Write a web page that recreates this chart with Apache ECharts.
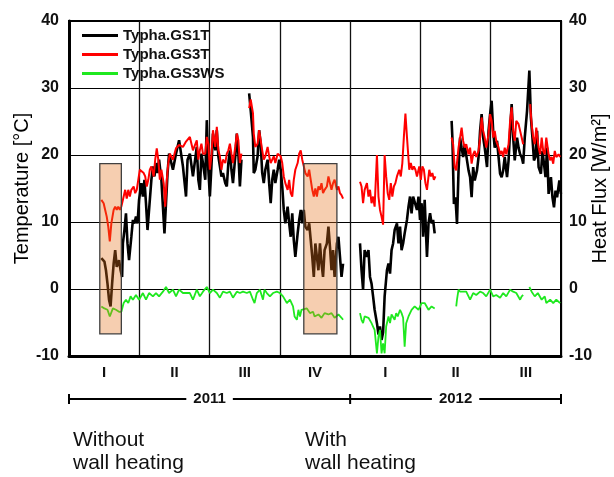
<!DOCTYPE html>
<html>
<head>
<meta charset="utf-8">
<script src="https://cdn.jsdelivr.net/npm/echarts@6/dist/echarts.min.js"></script>
<style>
  html, body { margin: 0; padding: 0; background: #fff; }
  #main { width: 614px; height: 477px; }
</style>
</head>
<body>
<div id="main"></div>
<script>
// x = days since 2011-01-01, null = gap in the logger record
var quarterLabels = ['I', 'II', 'III', 'IV', 'I', 'II', 'III'];
var yearLabels = ['2011', '2012'];
var yearBounds = [0, 365.2, 639.1];
var heatingBoxes = [[40, 68], [305, 348]];   // days: without / with wall heating
var boxRange = [-6.7, 18.7];

var gs1t = [
    [42,4.6],[46,4.1],[48,2.8],[50,0.8],[52,-1.6],[54,-2.6],[56,0.8],[58,3.8],[60,5.8],[62,3.3],[65,4.3],[67,2.8],[69,1.8],
    [70,6.8],[72,8.8],[74,11.3],[76,6.8],[78,4.3],[81,7.8],[83,10.3],[85,9.8],[87,10.8],[89,9.8],[91,13.3],[94,15.8],[96,13.8],
    [98,16.3],[100,12.8],[102,8.8],[104,11.8],[107,16.3],[109,18.3],[111,16.8],[113,18.8],[115,17.3],[117,19.3],[120,16.3],
    [122,12.3],[124,8.3],[126,12.8],[128,17.3],[130,20.2],[135,17.8],[139,20.2],[143,22.2],[148,18.3],[152,13.8],[154,19.3],
    [157,20.2],[161,16.8],[166,21.2],[168,16.3],[170,14.8],[172,20.2],[174,18.8],[177,16.3],[179,25.2],[181,17.8],[183,13.8],
    [185,18.3],[187,23.2],[190,20.7],[192,23.7],[194,19.8],[196,18.3],[198,16.8],[200,17.3],[203,15.8],[205,15.3],[207,18.8],
    [209,20.7],[211,17.8],[213,15.8],[216,19.8],[218,23.2],[220,20.2],[222,15.3],[224,19.3],
    null,
    [234,29.2],[236,26.7],[239,22.7],[240,17.3],[242,17.8],[245,19.8],[247,23.7],[249,21.7],[251,17.3],[253,15.8],[255,17.8],
    [258,19.3],[260,15.8],[262,12.8],[264,16.3],[266,17.8],[268,15.8],[271,17.8],[273,19.3],[275,17.8],[277,15.3],[279,11.8],
    [281,9.8],[284,12.3],[286,9.8],[288,7.8],[290,11.3],[292,7.3],[294,4.8],[297,8.3],[299,10.3],[301,11.8],[303,9.8],
    [305,11.8],[307,9.3],[310,8.8],[312,9.8],[314,7.3],[316,4.8],[318,1.8],[320,6.8],[322,4.8],[324,2.8],[326,6.8],[328,3.8],
    [330,1.8],[332,5.8],[335,6.8],[337,9.3],[339,6.3],[341,2.8],[343,5.8],[345,1.8],[348,6.8],[350,7.8],[352,4.8],[354,1.8],[356,3.8],
    null,
    [378,6.8],[380,2.8],[382,-0.1],[384,5.8],[387,4.8],[389,5.8],[391,1.8],[393,0.8],[395,-1.1],[397,-3.1],[400,-5.1],
    [402,-6.8],[404,-5.6],[406,-7.6],[408,-6.5],[410,-1.1],[413,2.8],[415,3.8],[417,2.3],[419,5.8],[421,6.8],[423,8.8],
    [426,9.8],[428,6.8],[430,9.3],[432,5.8],[434,6.8],[436,8.3],[439,10.3],[441,12.3],[443,13.8],[445,11.3],[447,13.8],
    [449,13.8],[452,11.8],[454,13.8],[456,10.3],[458,12.8],[460,7.8],[462,13.3],[465,4.8],[467,9.8],[469,11.3],[471,9.8],
    [473,10.3],[475,8.3],
    null,
    [497,25.1],[498,22.6],[500,12.7],[502,13.7],[504,9.7],[506,17.7],[508,22.6],[510,21.1],[512,19.7],[514,21.6],[517,19.2],
    [519,17.7],[521,16.7],[523,13.7],[525,18.2],[527,16.2],[530,17.7],[532,19.7],[534,23.6],[536,26.1],[538,22.6],[540,21.1],
    [543,18.2],[545,23.6],[547,26.1],[549,28.1],[551,23.6],[553,21.1],[556,22.1],[558,19.7],[560,17.2],[562,16.7],[564,17.7],
    [566,19.7],[569,16.7],[571,19.2],[573,23.6],[575,27.6],[577,22.6],[579,19.2],[582,22.6],[584,21.1],[586,20.1],[588,19.7],
    [590,18.7],[592,22.6],[595,26.6],[598,32.6],[600,25.6],[602,22.6],[604,19.2],[606,19.7],[608,23.6],[610,18.2],[613,17.2],
    [615,20.6],[617,18.7],[619,16.7],[621,21.1],[623,14.2],[626,16.7],[628,13.7],[630,12.2],[632,14.7],[634,13.7],[637,16.2],[639,14.2]
];

var gs3t = [
    [42,13.3],[45,12.8],[47,11.8],[49,10.8],[51,9.3],[53,7.1],[55,9.8],[58,11.8],[60,12.3],[62,11.8],[64,12.3],[66,11.8],
    [68,12.3],[71,13.8],[73,14.8],[75,13.5],[77,14.8],[79,13.8],[81,14.8],[84,15.3],[86,14.3],[88,14.8],[90,16.3],[92,17.8],
    [94,17.8],[97,17.3],[99,16.8],[101,15.3],[103,16.3],[105,17.8],[107,18.3],[110,16.8],[112,19.3],[114,21.0],[116,19.3],
    [118,16.3],[120,17.8],[123,15.8],[125,12.3],[127,16.3],[129,18.8],[131,20.2],[135,19.3],[139,21.0],[143,21.5],[148,21.2],
    [152,22.0],[157,22.7],[161,20.7],[166,22.2],[168,19.3],[170,20.7],[172,21.7],[174,20.2],[177,20.2],[179,22.7],[181,21.7],
    [183,17.8],[185,19.8],[187,23.7],[190,21.2],[192,24.2],[194,20.7],[196,19.8],[198,17.8],[200,19.3],[203,18.8],[205,20.2],
    [207,20.7],[209,21.7],[211,20.2],[213,18.8],[216,21.2],[218,23.2],[220,22.2],[222,18.8],[224,20.2],
    null,
    [234,27.0],[236,28.3],[239,26.2],[240,23.2],[242,21.2],[245,21.7],[247,23.7],[249,22.2],[251,20.7],[253,19.3],[255,19.8],
    [258,21.2],[260,19.8],[262,18.8],[264,19.3],[266,19.8],[268,18.8],[271,20.2],[273,20.2],[275,19.8],[277,18.8],[279,16.8],
    [281,15.8],[284,14.8],[286,16.3],[288,14.3],[290,13.8],[292,16.3],[294,17.8],[297,18.8],[299,20.2],[301,20.7],[303,19.3],
    [305,18.3],[307,17.3],[310,16.8],[312,17.8],[314,16.3],[316,14.8],[318,13.8],[320,15.0],[322,13.8],[324,15.3],[326,14.8],
    [328,15.8],[330,14.3],[332,14.8],[335,15.3],[337,16.8],[339,15.8],[341,14.8],[343,15.8],[345,16.3],[348,14.8],[350,15.3],
    [352,14.3],[354,14.0],[356,13.5],
    null,
    [378,16.0],[380,15.3],[382,12.8],[384,14.8],[387,15.8],[389,13.8],[391,14.8],[393,12.8],[395,13.8],[397,12.3],[400,20.0],
    [402,13.8],[404,11.8],[406,10.8],[408,9.6],[410,20.0],[412,16.8],[414,14.3],[416,13.3],[418,15.8],[420,13.8],[422,15.3],
    [424,15.8],[426,16.8],[429,17.8],[431,16.8],[433,18.8],[435,22.7],[437,26.2],[439,22.7],[442,17.8],[444,18.8],[446,17.8],
    [448,18.3],[450,17.8],[452,16.8],[455,18.3],[457,16.3],[459,18.3],[461,17.8],[463,15.8],[465,14.8],[468,17.8],[470,16.8],
    [472,17.3],[474,16.3],[476,16.8],
    null,
    [497,22.6],[499,21.6],[501,18.2],[503,17.7],[506,21.1],[508,22.6],[510,24.1],[512,22.1],[514,21.1],[516,21.6],[519,20.1],
    [521,21.1],[523,18.7],[525,20.1],[527,20.6],[529,19.7],[532,20.6],[534,22.6],[536,25.6],[538,23.6],[540,22.6],[542,21.1],
    [545,23.1],[547,26.1],[549,25.1],[551,22.6],[553,23.6],[555,22.1],[558,21.1],[560,20.1],[562,20.6],[564,19.7],[566,21.1],
    [568,20.1],[571,21.6],[573,25.1],[575,27.1],[577,23.6],[579,22.1],[581,25.1],[584,24.6],[586,23.6],[588,22.6],[590,21.6],
    null,
    [599,27.6],[601,24.6],[603,22.6],[605,21.6],[607,24.1],[610,21.1],[612,20.1],[614,22.6],[616,20.6],[618,20.1],[620,22.6],
    [623,20.1],[625,19.2],[627,19.7],[629,18.7],[631,20.6],[633,19.7],[636,20.1],[638,19.7]
];

var gs3ws = [
    [42,-2.6],[46,-2.9],[50,-3.1],[53,-4.1],[57,-2.9],[61,-3.1],[65,-3.4],[68,-3.4],[71,-2.1],[74,-1.6],[77,-2.1],[80,-1.1],
    [83,-1.6],[87,-0.9],[91,-1.6],[96,-0.6],[100,-1.6],[104,-0.6],[109,-1.1],[113,-0.6],[117,-1.1],[122,-0.4],[126,0.3],
    [130,-0.6],[135,-0.1],[139,-1.1],[143,-0.1],[148,-0.6],[157,-0.6],[161,-1.6],[166,-0.1],[170,-1.1],[174,-0.4],[179,0.3],
    [183,-0.6],[187,-0.1],[192,-0.6],[196,-1.3],[200,-0.4],[205,-0.6],[209,-0.4],[213,-1.3],[218,-0.4],[222,-0.6],[226,-0.4],
    [231,-0.6],[235,-0.4],[239,-1.6],[241,-2.1],[244,-0.6],[248,-0.1],[252,-1.6],[254,-0.1],[257,-0.6],[261,-1.1],[265,-0.6],
    [270,-0.4],[274,-0.6],[278,-1.1],[283,-2.1],[287,-1.6],[291,-2.6],[293,-4.1],[296,-4.6],[298,-3.1],[300,-4.1],[302,-3.1],
    [304,-3.1],[309,-2.9],[313,-3.6],[317,-3.4],[319,-4.1],[324,-3.8],[328,-4.3],[332,-3.6],[337,-3.8],[341,-3.6],[345,-4.3],
    [350,-3.8],[354,-4.3],[356,-4.6],
    null,
    [378,-3.6],[380,-4.6],[382,-5.1],[384,-4.1],[389,-4.3],[393,-5.1],[395,-5.6],[397,-6.1],[400,-9.6],[402,-7.1],[404,-6.1],
    [406,-9.6],[408,-8.1],[410,-9.6],[412,-5.6],[415,-4.1],[417,-5.1],[419,-3.8],[423,-4.6],[425,-3.6],[427,-4.1],[430,-3.1],
    [432,-3.6],[434,-4.3],[436,-8.6],[438,-5.1],[441,-4.1],[445,-3.1],[449,-2.6],[454,-3.1],[458,-2.1],[462,-2.1],[467,-3.1],
    [471,-2.6],[475,-2.9],
    null,
    [503,-2.6],[504,-1.6],[506,-0.1],[508,-0.4],[512,-0.4],[516,-0.4],[521,-1.6],[523,-1.1],[525,-0.6],[529,-0.9],[534,-0.4],
    [538,-0.6],[542,-1.1],[547,-0.1],[551,-1.1],[555,-0.9],[560,-1.3],[564,-0.6],[568,-1.1],[573,-0.1],[577,-0.4],[581,-0.6],
    [586,-1.6],[588,-1.1],[590,-0.9],
    null,
    [598,0.3],[601,-0.4],[605,-1.1],[609,-0.6],[614,-1.6],[618,-1.1],[620,-2.1],[625,-1.6],[629,-2.1],[633,-1.6],[638,-2.1]
];

function toLine(arr) {
    return arr.map(function (p) { return p === null ? ['-', '-'] : p; });
}

var FONT = 'Liberation Sans, Arial, sans-serif';

var chart = echarts.init(document.getElementById('main'));

var option = {
    animation: false,
    backgroundColor: '#fff',
    grid: {
        left: 69, right: 53, top: 21, bottom: 121,
        outerBoundsMode: 'none', containLabel: false,
        show: true, borderColor: '#000', borderWidth: 2
    },
    legend: {
        orient: 'vertical',
        left: 82, top: 28, padding: 0,
        itemWidth: 36, itemHeight: 3, itemGap: 4,
        icon: 'rect',
        data: ['Typha.GS1T', 'Typha.GS3T', 'Typha.GS3WS'],
        textStyle: { fontFamily: FONT, fontWeight: 'bold', fontSize: 15, lineHeight: 15, color: '#111' }
    },
    xAxis: [{
        type: 'value', min: yearBounds[0], max: yearBounds[2], interval: 91.3,
        axisLine: { show: true, onZero: false, lineStyle: { color: '#000', width: 3 } },
        axisTick: { show: false },
        axisLabel: { show: false },
        splitLine: { show: true, lineStyle: { color: '#111', width: 1.3 } }
    }, {
        type: 'category', data: quarterLabels, position: 'bottom',
        axisLine: { show: false, onZero: false }, axisTick: { show: false },
        axisLabel: { margin: 9, fontFamily: FONT, fontWeight: 'bold', fontSize: 15, color: '#111' }
    }],
    yAxis: [{
        type: 'value', min: -10, max: 40, interval: 10,
        name: 'Temperature [°C]', nameLocation: 'middle', nameGap: 37, nameMoveOverlap: false,
        nameTextStyle: { fontFamily: FONT, fontSize: 20, color: '#000' },
        axisLine: { show: true, lineStyle: { color: '#000', width: 3 } },
        axisTick: { show: false },
        axisLabel: { margin: 10, fontFamily: FONT, fontWeight: 'bold', fontSize: 16, color: '#111' },
        splitLine: { show: true, lineStyle: { color: '#000', width: 1 } }
    }, {
        type: 'value', min: -10, max: 40, interval: 10, position: 'right',
        name: 'Heat Flux [W/m²]', nameLocation: 'middle', nameGap: 29, nameMoveOverlap: false,
        nameTextStyle: { fontFamily: FONT, fontSize: 20, color: '#000' },
        axisLine: { show: true, lineStyle: { color: '#000', width: 2 } },
        axisTick: { show: false },
        axisLabel: { margin: 8, fontFamily: FONT, fontWeight: 'bold', fontSize: 16, color: '#111' },
        splitLine: { show: false }
    }],
    series: [{
        name: 'Typha.GS1T', type: 'line', showSymbol: false, connectNulls: false,
        data: toLine(gs1t), color: '#000',
        lineStyle: { width: 2.6, color: '#000' }
    }, {
        name: 'Typha.GS3T', type: 'line', showSymbol: false, connectNulls: false,
        data: toLine(gs3t), color: '#ff0000',
        lineStyle: { width: 2, color: '#ff0000' }
    }, {
        name: 'Typha.GS3WS', type: 'line', showSymbol: false, connectNulls: false,
        yAxisIndex: 1,
        data: toLine(gs3ws), color: '#1fe81f',
        lineStyle: { width: 1.8, color: '#1fe81f' }
    }, {
        name: 'boxes', type: 'line', data: [], z: 10,
        markArea: {
            silent: true, z: 10,
            itemStyle: { color: 'rgba(229,114,29,0.35)', borderColor: '#404040', borderWidth: 1.3 },
            data: heatingBoxes.map(function (b) {
                return [{ coord: [b[0], boxRange[1]] }, { coord: [b[1], boxRange[0]] }];
            })
        }
    }]
};
chart.setOption(option);

// year brackets under the quarter labels
var px = function (d) { return chart.convertToPixel({ xAxisIndex: 0 }, d); };
var yLine = chart.convertToPixel({ yAxisIndex: 0 }, -10) + 43;
var graphics = [];
for (var i = 0; i < yearLabels.length; i++) {
    var x0 = px(yearBounds[i]), x1 = px(yearBounds[i + 1]);
    graphics.push({ type: 'line', shape: { x1: x0, y1: yLine, x2: x1, y2: yLine }, style: { stroke: '#000', lineWidth: 2 } });
    graphics.push({ type: 'text', z: 5, style: {
        text: yearLabels[i], x: (x0 + x1) / 2, y: yLine, align: 'center', verticalAlign: 'middle',
        font: 'bold 15px ' + FONT, fill: '#111', backgroundColor: '#fff', padding: [0, 7]
    } });
}
yearBounds.forEach(function (d) {
    var x = px(d);
    graphics.push({ type: 'line', shape: { x1: x, y1: yLine - 5, x2: x, y2: yLine + 5 }, style: { stroke: '#000', lineWidth: 2 } });
});
graphics.push({ type: 'text', left: 73, top: 429, style: { text: 'Without\nwall heating', font: '21px ' + FONT, fill: '#111', lineHeight: 23 } });
graphics.push({ type: 'text', left: 305, top: 429, style: { text: 'With\nwall heating', font: '21px ' + FONT, fill: '#111', lineHeight: 23 } });
chart.setOption({ graphic: graphics });
</script>
</body>
</html>
